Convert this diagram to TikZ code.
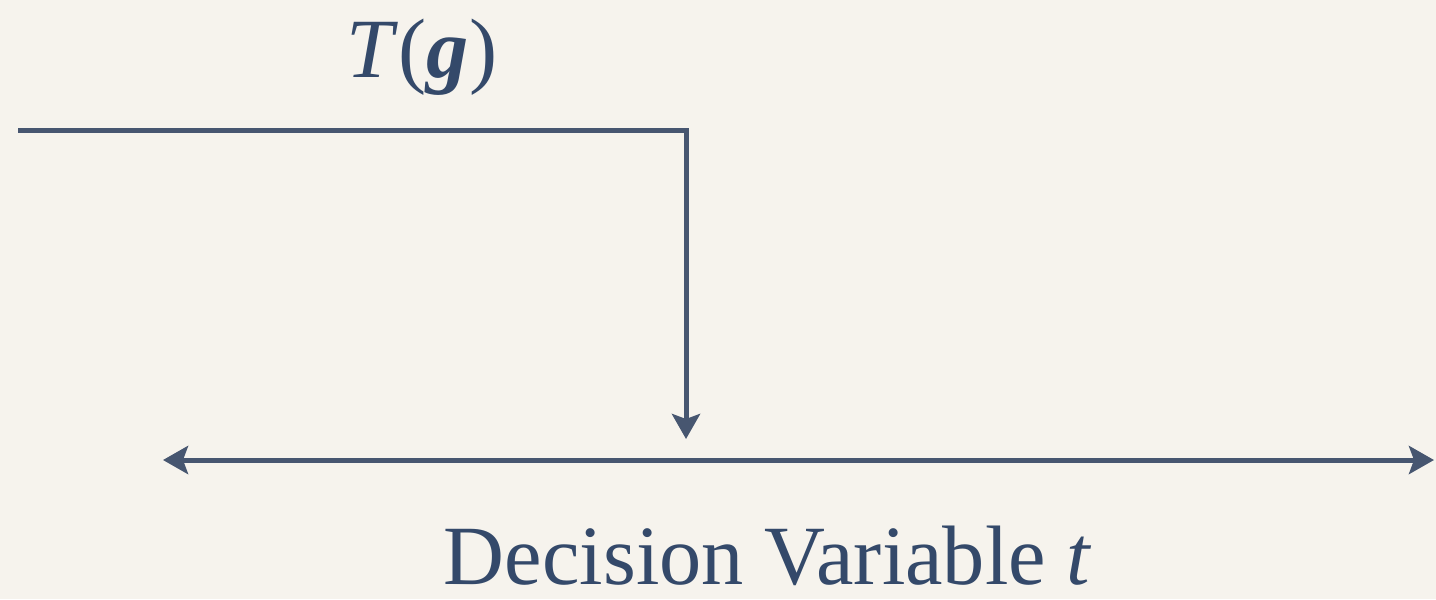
\documentclass[tikz,border=0pt]{standalone}
\usepackage{fontspec}
\setmainfont{Liberation Serif}
\definecolor{slateblue}{RGB}{71,86,112}
\definecolor{inkblue}{RGB}{52,73,106}
\definecolor{paper}{RGB}{246,243,237}
\usetikzlibrary{arrows.meta}

\begin{document}
\begin{tikzpicture}[
  x=0.02cm, y=-0.02cm,
  wire/.style={line width=0.1cm, slateblue},
  wtip/.tip={Stealth[length=0.5cm, width=0.56cm, inset=0.1cm]},
  lbl/.style={font=\fontsize{48}{56}\selectfont, text=inkblue,
    inner sep=0pt, anchor=base},
]
% ---- canvas ----
\fill[paper] (0,0) rectangle (1436,599);
\useasboundingbox (0,0) rectangle (1436,599);

% ---- threshold T(g) ----
\node[lbl] (tg) at (422,77) {\textit{T}(\textbf{\textit{g}})};
\coordinate (tstart) at (18,130);
\coordinate (tbend)  at (686,130);
\coordinate (thit)   at (686,439);
\draw[wire, -wtip] (tstart) -- (tbend) -- (thit);

% ---- decision axis ----
\coordinate (axl) at (163,460);
\coordinate (axr) at (1434,460);
\draw[wire, wtip-wtip] (axl) -- (axr);
\node[lbl, text depth=0pt] (dv) at (768,584) {Decision Variable \textit{t}};

\end{tikzpicture}
\end{document}
